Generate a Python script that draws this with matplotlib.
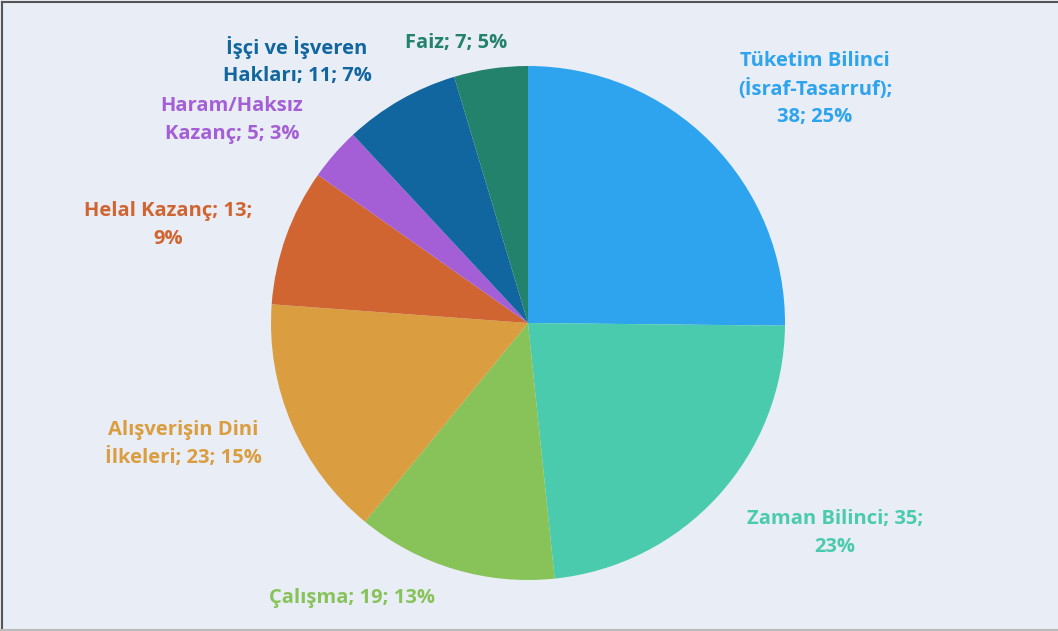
import matplotlib.pyplot as plt

labels = ["Tüketim Bilinci\n(İsraf-Tasarruf);\n38; 25%", "Zaman Bilinci; 35;\n23%", "Çalışma; 19; 13%",
          "Alışverişin Dini\nİlkeleri; 23; 15%", "Helal Kazanç; 13;\n9%", "Haram/Haksız\nKazanç; 5; 3%",
          "İşçi ve İşveren\nHakları; 11; 7%", "Faiz; 7; 5%"]
values = [38, 35, 19, 23, 13, 5, 11, 7]
colors = ["#2EA3EE", "#4BCBAD", "#88C35A", "#DA9D3F", "#D06532", "#A45FD6", "#11669F", "#23826B"]
# label centres in pixels (x, y from top)
label_pos = [(815, 89), (835, 533), (352, 598), (183, 444), (168, 225), (232, 120), (297, 61), (456, 43)]

W, H = 1058, 631
bg = "#E9EDF5"
plt.rcParams['font.family'] = ['Open Sans', 'DejaVu Sans']

fig = plt.figure(figsize=(W / 100, H / 100), dpi=100)
fig.patch.set_facecolor(bg)

cx, cy, r = 528, 323, 257
ax = fig.add_axes([(cx - r) / W, (H - cy - r) / H, 2 * r / W, 2 * r / H])
ax.pie(values, colors=colors, startangle=90, counterclock=False,
       wedgeprops=dict(linewidth=0))
ax.set_xlim(-1, 1)
ax.set_ylim(-1, 1)
ax.set_aspect('equal')
ax.axis('off')

for lab, (x, y), c in zip(labels, label_pos, colors):
    fig.text(x / W, 1 - y / H, lab, color=c, fontsize=14.5, fontweight='bold',
             ha='center', va='center', multialignment='center', linespacing=1.5)

# frame
fig.add_artist(plt.Line2D([2 / W, 1], [1 - 2 / H, 1 - 2 / H], color="#555555", lw=1.5, transform=fig.transFigure))
fig.add_artist(plt.Line2D([2 / W, 2 / W], [0, 1 - 2 / H], color="#555555", lw=1.5, transform=fig.transFigure))
fig.add_artist(plt.Line2D([0, 1], [1 / H, 1 / H], color="#BBBBBB", lw=1.5, transform=fig.transFigure))

fig.savefig("out.png", dpi=100, facecolor=bg)
